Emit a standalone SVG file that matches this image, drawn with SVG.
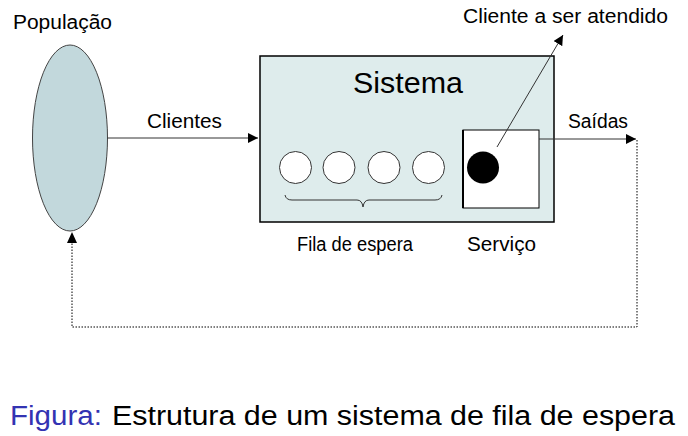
<svg xmlns="http://www.w3.org/2000/svg" width="688" height="436" viewBox="0 0 688 436">
<style>
text{font-family:"Liberation Sans",Arial,sans-serif;fill:#000}
.lbl{font-size:19.5px}
.ln{stroke:#333;stroke-width:1;fill:none}
.dot{stroke:#000;stroke-width:1;fill:none;stroke-dasharray:1.5 1.5}
.q{fill:#fff;stroke:#333;stroke-width:1}
</style>
<defs>
<marker id="ah" viewBox="0 0 10 10" refX="10" refY="5" markerWidth="10" markerHeight="10" markerUnits="userSpaceOnUse" orient="auto">
<path d="M0,0 L10,5 L0,10 z" fill="#000"/>
</marker>
</defs>
<rect width="688" height="436" fill="#fff"/>
<g id="populacao">
<ellipse cx="70" cy="138" rx="37.5" ry="93" fill="#c2d8dc" stroke="#444" stroke-width="1"/>
<text class="lbl" x="13" y="29" textLength="99" lengthAdjust="spacingAndGlyphs">População</text>
</g>
<g id="sistema">
<rect x="260" y="56" width="294" height="166" fill="#deecec" stroke="#000" stroke-width="1.5"/>
<text x="353" y="93" font-size="29" textLength="110" lengthAdjust="spacingAndGlyphs">Sistema</text>
</g>
<g id="fila">
<circle class="q" cx="295.5" cy="167.5" r="16"/>
<circle class="q" cx="339" cy="167.5" r="16"/>
<circle class="q" cx="384" cy="167.5" r="16"/>
<circle class="q" cx="428.5" cy="167.5" r="16"/>
<path class="ln" d="M285,195 Q286,200 292,200 L357,200 Q362,200 363,207 Q364,200 369,200 L435,200 Q441,200 442,195" stroke="#555"/>
<text class="lbl" x="297" y="251" textLength="116" lengthAdjust="spacingAndGlyphs">Fila de espera</text>
</g>
<g id="servico">
<rect x="463" y="130" width="76" height="78" fill="#fff" stroke="#000" stroke-width="1"/>
<line x1="463" y1="130" x2="463" y2="208" stroke="#000" stroke-width="2"/>
<circle cx="483" cy="167.5" r="16" fill="#000"/>
<text class="lbl" x="467" y="251" textLength="69" lengthAdjust="spacingAndGlyphs">Serviço</text>
</g>
<g id="cliente-label">
<text class="lbl" x="463" y="23" textLength="205" lengthAdjust="spacingAndGlyphs">Cliente a ser atendido</text>
</g>
<g id="connectors">
<line class="ln" x1="107.5" y1="138" x2="258" y2="138" marker-end="url(#ah)"/>
<text class="lbl" x="147" y="128" textLength="75" lengthAdjust="spacingAndGlyphs">Clientes</text>
<line class="ln" x1="539" y1="139" x2="636" y2="139" marker-end="url(#ah)"/>
<text class="lbl" x="568" y="128" textLength="60" lengthAdjust="spacingAndGlyphs">Saídas</text>
<line class="ln" x1="497" y1="147" x2="563" y2="35" marker-end="url(#ah)"/>
<path class="dot" d="M637,140 L637,327 L72,327 L72,242"/>
<path d="M72,232 L67,243 L77,243 z" fill="#000"/>
</g>
<g id="caption">
<text x="10" y="425" font-size="27" fill="#3333b2" style="fill:#3333b2" textLength="92" lengthAdjust="spacingAndGlyphs">Figura:</text>
<text x="112" y="425" font-size="27" textLength="563" lengthAdjust="spacingAndGlyphs">Estrutura de um sistema de fila de espera</text>
</g>
</svg>
